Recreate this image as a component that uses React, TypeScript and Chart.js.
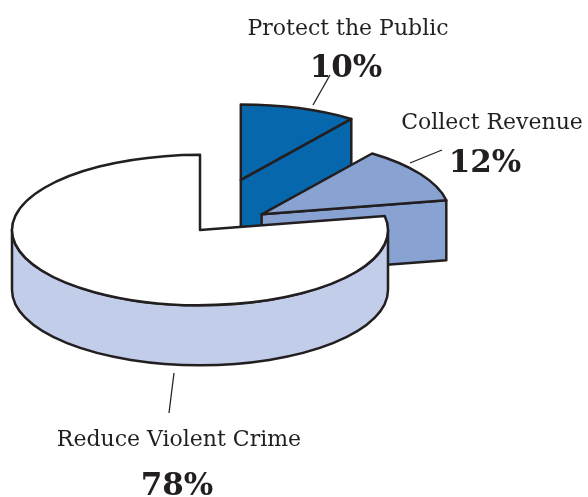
import React, { useEffect, useRef } from "react";
import { Chart, registerables } from "chart.js";

Chart.register(...registerables);

// ---- data ----
const categories = ["Protect the Public", "Collect Revenue", "Reduce Violent Crime"];
const shares = [10, 12, 78];
const shareLabels = ["10%", "12%", "78%"];

// ---- style / layout ----
const W = 588;
const H = 497;
const PIE = { cx: 200, cy: 230, r: 188, tilt: 0.4, depth: 60 };
const EXPLODE = [132, 73, 0];
const TOP_COLORS = ["#0767ad", "#88a3d2", "#ffffff"];
const SIDE_COLORS = ["#0767ad", "#88a3d2", "#c1cde9"];
const INK = "#231f20";
const NAME_FONT = '22px "DejaVu Serif"';
const VALUE_FONT = 'bold 31px "DejaVu Serif"';
const LABEL_LAYOUT = [
  { nameX: 348, nameY: 35, valX: 346, valY: 77, line: [313, 105, 330, 75] },
  { nameX: 492, nameY: 129, valX: 485, valY: 172, line: [410, 163, 442, 150] },
  { nameX: 179, nameY: 446, valX: 177, valY: 495, line: [174, 373, 169, 413] },
];

const pie3d = {
  id: "pie3d",
  beforeDatasetsDraw(chart: any) {
    const ctx: CanvasRenderingContext2D = chart.ctx;
    const meta = chart.getDatasetMeta(0);
    const arcs = meta.data;
    const k = PIE.tilt;
    const h = PIE.depth;
    const geo = arcs.map((arc: any, i: number) => {
      const p = arc.getProps(["x", "y", "startAngle", "endAngle", "outerRadius"], true);
      const mid = (p.startAngle + p.endAngle) / 2;
      const d = EXPLODE[i] || 0;
      return {
        cx: p.x + d * Math.cos(mid),
        cy: p.y + k * d * Math.sin(mid),
        x: p.x,
        y: p.y,
        s: p.startAngle,
        e: p.endAngle,
        r: p.outerRadius,
      };
    });
    const pt = (g: any, a: number, z: number) => [g.cx + g.r * Math.cos(a), g.cy + k * g.r * Math.sin(a) + z];

    ctx.save();
    ctx.lineWidth = 2.5;
    ctx.strokeStyle = INK;
    ctx.lineJoin = "round";

    // side walls
    geo.forEach((g: any, i: number) => {
      ctx.fillStyle = SIDE_COLORS[i];
      for (const off of [-2 * Math.PI, 0, 2 * Math.PI]) {
        const a0 = Math.max(g.s, off);
        const a1 = Math.min(g.e, off + Math.PI);
        if (a1 > a0) {
          ctx.beginPath();
          ctx.ellipse(g.cx, g.cy, g.r, k * g.r, 0, a0, a1, false);
          ctx.ellipse(g.cx, g.cy + h, g.r, k * g.r, 0, a1, a0, true);
          ctx.closePath();
          ctx.fill();
          ctx.stroke();
        }
      }
      const faces: number[] = [];
      if (Math.cos(g.s) < -1e-6) faces.push(g.s);
      if (Math.cos(g.e) > 1e-6) faces.push(g.e);
      faces.forEach((a) => {
        const [ox, oy] = pt(g, a, 0);
        ctx.beginPath();
        ctx.moveTo(g.cx, g.cy);
        ctx.lineTo(ox, oy);
        ctx.lineTo(ox, oy + h);
        ctx.lineTo(g.cx, g.cy + h);
        ctx.closePath();
        ctx.fill();
        ctx.stroke();
      });
    });

    // top faces
    arcs.forEach((arc: any, i: number) => {
      const g = geo[i];
      ctx.save();
      ctx.translate(g.cx, g.cy);
      ctx.scale(1, k);
      ctx.translate(-g.x, -g.y);
      arc.draw(ctx);
      ctx.restore();
      ctx.beginPath();
      ctx.moveTo(g.cx, g.cy);
      ctx.ellipse(g.cx, g.cy, g.r, k * g.r, 0, g.s, g.e, false);
      ctx.closePath();
      ctx.stroke();
    });
    ctx.restore();
    return false;
  },
  afterDraw(chart: any) {
    const ctx: CanvasRenderingContext2D = chart.ctx;
    ctx.save();
    ctx.fillStyle = INK;
    ctx.strokeStyle = INK;
    ctx.lineWidth = 1.3;
    ctx.textAlign = "center";
    ctx.textBaseline = "alphabetic";
    categories.forEach((name, i) => {
      const L = LABEL_LAYOUT[i];
      ctx.beginPath();
      ctx.moveTo(L.line[0], L.line[1]);
      ctx.lineTo(L.line[2], L.line[3]);
      ctx.stroke();
      ctx.font = NAME_FONT;
      ctx.fillText(name, L.nameX, L.nameY);
      ctx.font = VALUE_FONT;
      ctx.fillText(shareLabels[i], L.valX, L.valY);
    });
    ctx.restore();
  },
};

export default function App() {
  const ref = useRef<HTMLCanvasElement>(null);
  useEffect(() => {
    const chart = new Chart(ref.current as HTMLCanvasElement, {
      type: "pie",
      data: {
        labels: categories,
        datasets: [
          {
            data: shares,
            backgroundColor: TOP_COLORS,
            borderWidth: 0,
          },
        ],
      },
      options: {
        responsive: false,
        animation: false,
        events: [],
        radius: PIE.r,
        layout: { padding: { left: 0, top: 0, right: W - 2 * PIE.cx, bottom: H - 2 * PIE.cy } },
        plugins: { legend: { display: false }, tooltip: { enabled: false } },
      } as any,
      plugins: [pie3d as any],
    });
    return () => chart.destroy();
  }, []);
  return (
    <div style={{ position: "fixed", left: 0, top: 0, width: W, height: H, background: "#fff" }}>
      <canvas ref={ref} width={W} height={H} style={{ display: "block", width: W, height: H }} />
    </div>
  );
}
